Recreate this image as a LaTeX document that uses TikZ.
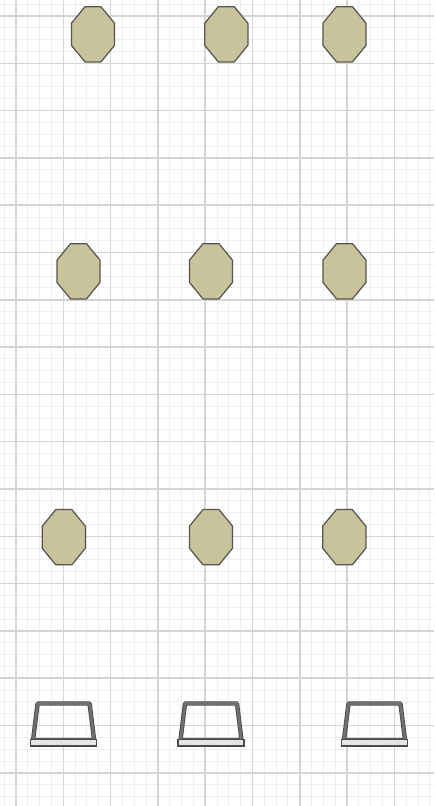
\documentclass[tikz,border=0pt]{standalone}
\usetikzlibrary{calc}

\definecolor{stoolfill}{RGB}{201,195,155}
\definecolor{stoolline}{RGB}{85,85,80}
\definecolor{deskline}{RGB}{75,75,75}
\definecolor{deskmid}{RGB}{112,112,112}

\begin{document}
\begin{tikzpicture}[x=0.02cm, y=-0.02cm,
    minorline/.style={gray!13, line width=0.55pt},
    majorline/.style={gray!33, line width=0.85pt},
    stool/.style={fill=stoolfill, draw=stoolline, line width=0.7pt, line join=round},
    desk/.style={draw=deskline, line width=0.5pt, double=deskmid, double distance=1.5pt, line join=round},
    deskbar/.style={draw=deskline, fill=gray!20, line width=0.6pt}]
    
    \useasboundingbox (0, 0) rectangle (434, 806);
    \fill[white] (0, 0) rectangle (434, 806);
    
    \foreach \i in {0,...,36}
        \draw[minorline] ({4.175+11.825*\i}, 0) -- ({4.175+11.825*\i}, 806);
    \foreach \i in {0,...,67}
        \draw[minorline] (0, {4.175+11.825*\i}) -- (434, {4.175+11.825*\i});
    \foreach \i in {0,...,8}
        \draw[majorline] ({16+47.3*\i}, 0) -- ({16+47.3*\i}, 806);
    \foreach \i in {0,...,16}
        \draw[majorline] (0, {16+47.3*\i}) -- (434, {16+47.3*\i});
    
    \foreach \cx/\cy in {93/34.3, 226.3/34.3, 344.5/34.3,
                         78.5/271.3, 211/271.3, 344.5/271.3,
                         63.8/537.2, 211/537.2, 344.3/537.2}
        \draw[stool, shift={(\cx, \cy)}] (-8, -27.6) -- (8, -27.6) -- (21.6, -11)
            -- (21.6, 11) -- (8, 27.6) -- (-8, 27.6) -- (-21.6, 11) -- (-21.6, -11) -- cycle;
    
    \foreach \cx in {63.6, 211, 374.5} {
        \draw[desk, shift={(\cx, 0)}] (-26, 703.5) -- (26, 703.5) -- (30.5, 740) -- (-30.5, 740) -- cycle;
        \draw[deskbar, shift={(\cx, 0)}] (-33, 739.5) rectangle (33, 746);
    }
    
\end{tikzpicture}
\end{document}
